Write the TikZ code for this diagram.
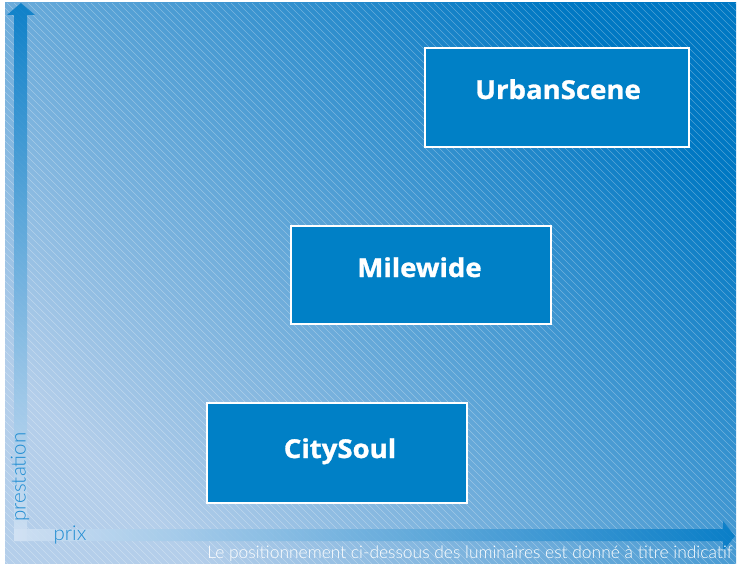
\documentclass[tikz,border=0pt]{standalone}
\usepackage{fontspec}
\setmainfont{Lato}
\newfontfamily\lightfont{Lato Light}
\newfontfamily\boxfont[BoldFeatures={FakeBold=1.2,FakeStretch=1.06}]{Open Sans}
\definecolor{bgdark}{RGB}{0,120,195}
\definecolor{bglight}{RGB}{180,206,234}
\definecolor{boxblue}{RGB}{0,128,198}
\definecolor{axdark}{RGB}{0,122,198}
\definecolor{axlight}{RGB}{210,226,244}
\definecolor{labelblue}{RGB}{30,140,210}
\begin{document}
\begin{tikzpicture}[x=1pt,y=-1pt,
  posbox/.style={draw=white, line width=2pt, fill=boxblue, inner sep=0pt},
  boxlabel/.style={text=white, font=\boxfont\bfseries\fontsize{26}{30}\selectfont, inner sep=0pt, anchor=base},
  hatch/.style={white, opacity=0.3, line width=0.6pt},
  axislabel/.style={text=labelblue, font=\lightfont\fontsize{20.5}{23}\selectfont, inner sep=0pt}]
\useasboundingbox (0,0) rectangle (738,567);
% background
\shade[bottom color=bglight, top color=bgdark, shading angle=-45] (5,3) rectangle (736,563);
\begin{scope}
  \clip (5,3) rectangle (736,563);
  \foreach \i in {-560,-553,...,740} \draw[hatch] (\i,3) -- ++(562,562);
\end{scope}
% axes
\shade[top color=axdark, bottom color=axlight, opacity=0.85]
  (14,541) -- (14,15) -- (7,15) -- (21,3) -- (35,15) -- (27,15) -- (27,541) -- cycle;
\shade[left color=axlight, right color=axdark, opacity=0.85]
  (14,529) -- (723,529) -- (723,521) -- (735,536) -- (723,551) -- (723,541) -- (14,541) -- cycle;
\node[axislabel, rotate=90] (prest) at (20,477) {prestation};
\node[axislabel, anchor=base] (prix) at (70,540) {prix};
\node[text=white, font=\lightfont\fontsize{17.4}{20}\selectfont, inner sep=0pt, anchor=base] (note) at (470,558)
  {Le positionnement ci-dessous des luminaires est donné à titre indicatif};
% boxes
\node[posbox, minimum width=264pt, minimum height=99pt] (urban) at (557,97.5) {};
\node[boxlabel] (urbant) at (558,99) {UrbanScene};
\node[posbox, minimum width=260pt, minimum height=98pt] (mile) at (421,275) {};
\node[boxlabel] (milet) at (419.5,277) {Milewide};
\node[posbox, minimum width=260pt, minimum height=100pt] (city) at (337,453) {};
\node[boxlabel] (cityt) at (340,458) {CitySoul};
\end{tikzpicture}
\end{document}
